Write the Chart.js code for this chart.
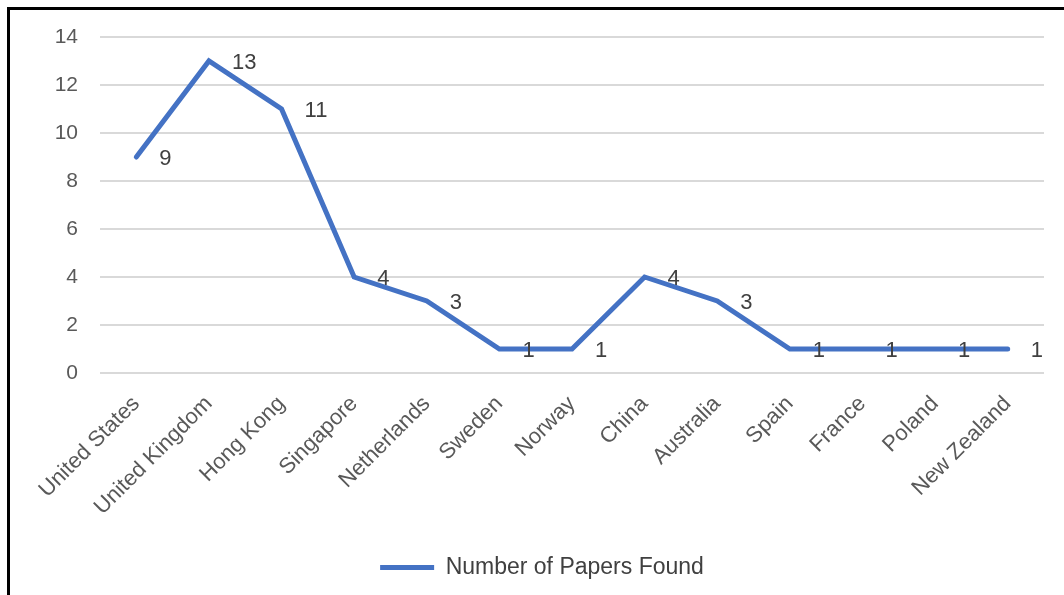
<!DOCTYPE html>
<html>
<head>
<meta charset="utf-8">
<script src="https://cdn.jsdelivr.net/npm/chart.js@4/dist/chart.umd.min.js"></script>
<style>
    html, body { margin: 0; padding: 0; background: #fff; }
    .wrap { position: relative; width: 1064px; height: 595px; overflow: hidden; }
    .frame { position: absolute; left: 7px; top: 7px; width: 1200px; height: 700px; border-left: 3px solid #000; border-top: 3px solid #000; }
    canvas { position: absolute; left: 0; top: 0; }
</style>
</head>
<body>
<div class="wrap">
    <div class="frame"></div>
    <canvas id="chart" width="1064" height="595"></canvas>
</div>
<script>
const countries = ['United States', 'United Kingdom', 'Hong Kong', 'Singapore', 'Netherlands', 'Sweden',
    'Norway', 'China', 'Australia', 'Spain', 'France', 'Poland', 'New Zealand'];
const papersFound = [9, 13, 11, 4, 3, 1, 1, 4, 3, 1, 1, 1, 1];
const yTicks = [0, 2, 4, 6, 8, 10, 12, 14];

const FONT = "'Liberation Sans', Arial, sans-serif";

// value labels to the right of each point
const pointLabels = {
    id: 'pointLabels',
    afterDatasetsDraw(chart) {
        const ctx = chart.ctx;
        const meta = chart.getDatasetMeta(0);
        ctx.save();
        ctx.font = `22px ${FONT}`;
        ctx.fillStyle = '#404040';
        ctx.textAlign = 'left';
        ctx.textBaseline = 'middle';
        meta.data.forEach((pt, i) => {
            ctx.fillText(String(papersFound[i]), pt.x + 23, pt.y + 2);
        });
        ctx.restore();
    }
};

new Chart(document.getElementById('chart'), {
    type: 'line',
    data: {
        labels: countries,
        datasets: [{
            label: 'Number of Papers Found',
            data: papersFound,
            borderColor: '#4472C4',
            backgroundColor: '#4472C4',
            borderWidth: 5,
            borderCapStyle: 'round',
            borderJoinStyle: 'miter',
            pointRadius: 0,
            pointHoverRadius: 0,
            tension: 0,
            fill: false
        }]
    },
    options: {
        responsive: false,
        animation: false,
        layout: { padding: { left: 40, right: 20, top: 37, bottom: 6 } },
        plugins: {
            tooltip: { enabled: false },
            legend: {
                position: 'bottom',
                labels: {
                    usePointStyle: true,
                    pointStyle: 'line',
                    pointStyleWidth: 54,
                    boxHeight: 23,
                    padding: 10,
                    color: '#404040',
                    font: { family: FONT, size: 23 }
                }
            }
        },
        scales: {
            x: {
                offset: true,
                grid: { display: false, drawTicks: false },
                border: { display: false },
                ticks: {
                    minRotation: 45,
                    maxRotation: 45,
                    autoSkip: false,
                    padding: 18,
                    color: '#595959',
                    font: { family: FONT, size: 22 }
                },
                afterFit(scale) { scale.height = 173; }
            },
            y: {
                min: 0,
                max: 14,
                afterBuildTicks(scale) { scale.ticks = yTicks.map(v => ({ value: v })); },
                grid: { color: '#d9d9d9', lineWidth: 2, drawTicks: false },
                border: { display: false },
                ticks: {
                    padding: 22,
                    color: '#595959',
                    font: { family: FONT, size: 21 }
                },
                afterFit(scale) { scale.width = 60; }
            }
        }
    },
    plugins: [pointLabels]
});
</script>
</body>
</html>
